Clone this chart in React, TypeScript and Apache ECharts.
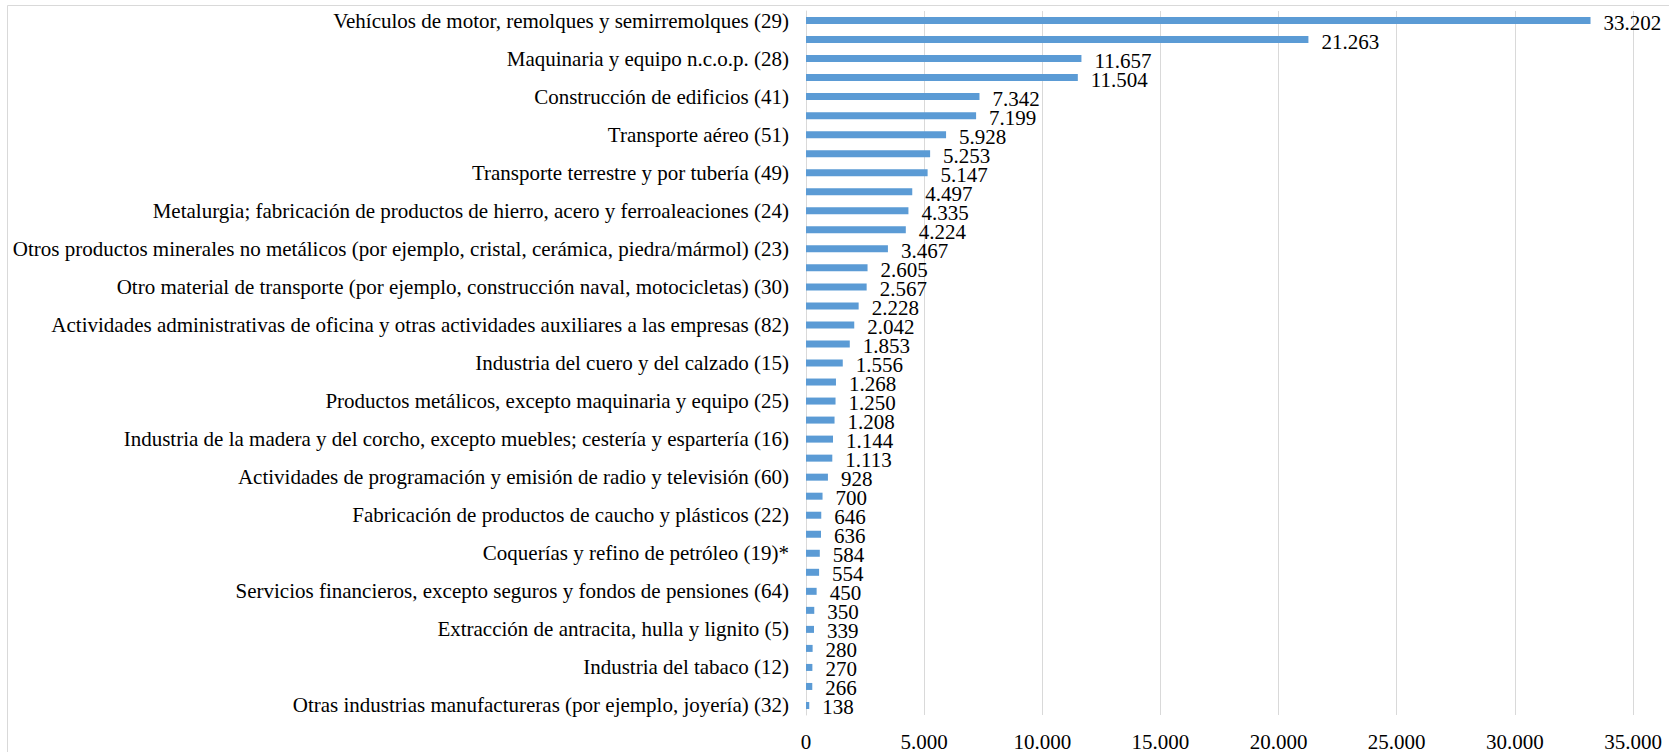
import React, { useEffect, useRef } from "react";
import * as echarts from "echarts";

const categories: string[] = [
  "Vehículos de motor, remolques y semirremolques (29)",
  "Industria química (20)",
  "Maquinaria y equipo n.c.o.p. (28)",
  "Fabricación de material y equipo eléctrico (27)",
  "Construcción de edificios (41)",
  "Ingeniería civil (42)",
  "Transporte aéreo (51)",
  "Productos informáticos, electrónicos y ópticos (26)",
  "Transporte terrestre y por tubería (49)",
  "Industria de la alimentación (10)",
  "Metalurgia; fabricación de productos de hierro, acero y ferroaleaciones (24)",
  "Fabricación de productos farmacéuticos (21)",
  "Otros productos minerales no metálicos (por ejemplo, cristal, cerámica, piedra/mármol) (23)",
  "Industria del papel (17)",
  "Otro material de transporte (por ejemplo, construcción naval, motocicletas) (30)",
  "Fabricación de bebidas (11)",
  "Actividades administrativas de oficina y otras actividades auxiliares a las empresas (82)",
  "Industria textil (13)",
  "Industria del cuero y del calzado (15)",
  "Confección de prendas de vestir (14)",
  "Productos metálicos, excepto maquinaria y equipo (25)",
  "Telecomunicaciones (61)",
  "Industria de la madera y del corcho, excepto muebles; cestería y espartería (16)",
  "Fabricación de muebles (31)",
  "Actividades de programación y emisión de radio y televisión (60)",
  "Artes gráficas y reproducción de soportes grabados (18)",
  "Fabricación de productos de caucho y plásticos (22)",
  "Reparación e instalación de maquinaria y equipo (33)",
  "Coquerías y refino de petróleo (19)*",
  "Actividades de construcción especializada (43)",
  "Servicios financieros, excepto seguros y fondos de pensiones (64)",
  "Suministro de energía eléctrica, gas, vapor y aire acondicionado (35)",
  "Extracción de antracita, hulla y lignito (5)",
  "Otras industrias extractivas (8)",
  "Industria del tabaco (12)",
  "Transporte marítimo y por vías navegables interiores (50)",
  "Otras industrias manufactureras (por ejemplo, joyería) (32)",
];

const values: number[] = [
  33202, 21263, 11657, 11504, 7342, 7199, 5928, 5253, 5147, 4497, 4335, 4224,
  3467, 2605, 2567, 2228, 2042, 1853, 1556, 1268, 1250, 1208, 1144, 1113, 928,
  700, 646, 636, 584, 554, 450, 350, 339, 280, 270, 266, 138,
];

const axisMin = 0;
const axisMax = 35000;
const axisStep = 5000;

const fmt = (v: number) => String(v).replace(/\B(?=(\d{3})+(?!\d))/g, ".");

const FONT = "Liberation Serif";

export default function App() {
  const ref = useRef<HTMLDivElement>(null);
  useEffect(() => {
    if (!ref.current) return;
    const chart = echarts.init(ref.current, null, { renderer: "svg" });
    chart.setOption({
      animation: false,
      backgroundColor: "#ffffff",
      textStyle: { fontFamily: FONT },
      graphic: [
        {
          type: "rect",
          shape: { x: 7.5, y: 5.5, width: 1700, height: 800 },
          style: { fill: "none", stroke: "#d9d9d9", lineWidth: 1 },
          silent: true,
        },
      ],
      grid: { left: 806, right: 36, top: 11, bottom: 37 },
      xAxis: {
        type: "value",
        min: axisMin,
        max: axisMax,
        interval: axisStep,
        axisLine: { show: false },
        axisTick: { show: false },
        splitLine: { lineStyle: { color: "#d9d9d9", width: 1 } },
        axisLabel: {
          formatter: (v: number) => fmt(v),
          color: "#000",
          fontFamily: FONT,
          fontSize: 21,
          margin: 16,
        },
      },
      yAxis: {
        type: "category",
        inverse: true,
        data: categories,
        axisLine: { show: true, lineStyle: { color: "#d9d9d9", width: 1 } },
        axisTick: { show: false },
        axisLabel: {
          interval: 1,
          color: "#000",
          fontFamily: FONT,
          fontSize: 21,
          lineHeight: 18,
          margin: 17,
        },
      },
      series: [
        {
          type: "bar",
          data: values,
          barWidth: 7,
          itemStyle: { color: "#5b9bd5" },
          label: {
            show: true,
            position: "right",
            distance: 13,
            offset: [0, 2],
            color: "#000",
            fontFamily: FONT,
            fontSize: 21,
            lineHeight: 17,
            formatter: (p: any) => fmt(p.value),
          },
        },
      ],
    });
    return () => chart.dispose();
  }, []);
  return (
    <div
      ref={ref}
      style={{ position: "fixed", left: 0, top: 0, width: 1669, height: 752 }}
    />
  );
}
